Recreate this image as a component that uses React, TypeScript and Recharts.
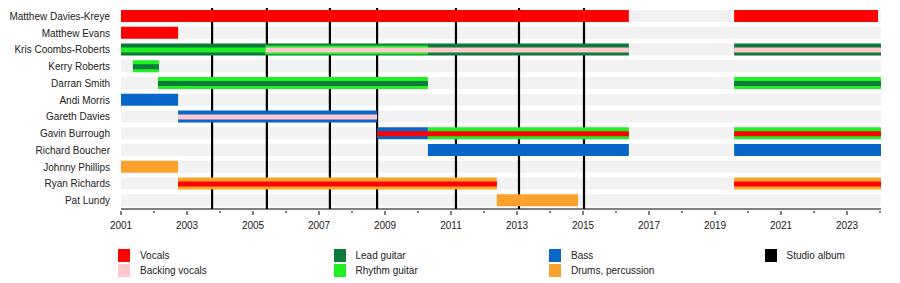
import React from "react"
import { BarChart, Bar, XAxis, YAxis, Cell, ReferenceLine } from "recharts"

// ─── Data ──────────────────────────────────────────────

const members = [
  "Matthew Davies-Kreye",
  "Matthew Evans",
  "Kris Coombs-Roberts",
  "Kerry Roberts",
  "Darran Smith",
  "Andi Morris",
  "Gareth Davies",
  "Gavin Burrough",
  "Richard Boucher",
  "Johnny Phillips",
  "Ryan Richards",
  "Pat Lundy",
]

const roleColors: Record<string, string> = {
  Vocals: "#ff0000",
  "Backing vocals": "#ffc9ce",
  "Lead guitar": "#0b7a3c",
  "Rhythm guitar": "#1ff01f",
  Bass: "#0866c8",
  "Drums, percussion": "#fba22c",
  "Studio album": "#000000",
}

// legend order, column by column
const legendRoles = [
  "Vocals",
  "Backing vocals",
  "Lead guitar",
  "Rhythm guitar",
  "Bass",
  "Drums, percussion",
  "Studio album",
]

// member, from, to, roles from the outside of the bar inwards
const stints: [string, number, number, ...string[]][] = [
  ["Matthew Davies-Kreye", 2001, 2016.39, "Vocals"],
  ["Matthew Davies-Kreye", 2019.58, 2023.94, "Vocals"],
  ["Matthew Evans", 2001, 2002.73, "Vocals"],
  ["Kris Coombs-Roberts", 2001, 2005.38, "Lead guitar", "Rhythm guitar"],
  ["Kris Coombs-Roberts", 2005.38, 2010.3, "Lead guitar", "Rhythm guitar", "Backing vocals"],
  ["Kris Coombs-Roberts", 2010.3, 2016.39, "Lead guitar", "Backing vocals"],
  ["Kris Coombs-Roberts", 2019.58, 2024.03, "Lead guitar", "Backing vocals"],
  ["Kerry Roberts", 2001.36, 2002.15, "Rhythm guitar", "Lead guitar"],
  ["Darran Smith", 2002.12, 2010.3, "Rhythm guitar", "Lead guitar"],
  ["Darran Smith", 2019.58, 2024.03, "Rhythm guitar", "Lead guitar"],
  ["Andi Morris", 2001, 2002.73, "Bass"],
  ["Gareth Davies", 2002.73, 2008.76, "Bass", "Backing vocals"],
  ["Gavin Burrough", 2008.76, 2010.3, "Bass", "Vocals"],
  ["Gavin Burrough", 2010.3, 2016.39, "Rhythm guitar", "Vocals"],
  ["Gavin Burrough", 2019.58, 2024.03, "Rhythm guitar", "Vocals"],
  ["Richard Boucher", 2010.3, 2016.39, "Bass"],
  ["Richard Boucher", 2019.58, 2024.03, "Bass"],
  ["Johnny Phillips", 2001, 2002.73, "Drums, percussion"],
  ["Ryan Richards", 2002.73, 2012.39, "Drums, percussion", "Vocals"],
  ["Ryan Richards", 2019.58, 2024.03, "Drums, percussion", "Vocals"],
  ["Pat Lundy", 2012.39, 2014.85, "Drums, percussion"],
]

const albums = [2003.76, 2005.42, 2007.33, 2008.76, 2011.15, 2013.06, 2015.03]

const yearTicks = [
  2001, 2002, 2003, 2004, 2005, 2006, 2007, 2008, 2009, 2010, 2011, 2012,
  2013, 2014, 2015, 2016, 2017, 2018, 2019, 2020, 2021, 2022, 2023, 2024,
]

const timelineStart = 2001
const timelineEnd = 2024.03

// ─── Helpers ──────────────────────────────────────────

const FONT = "'Liberation Sans', Arial, sans-serif"
const rows = members.map((name) => ({ name }))
const layerSizes = [12, 9, 5]
const chartMargin = { top: 8, right: 19, left: 0, bottom: 0 }

const stintsOf = (name: string) => stints.filter((s) => s[0] === name)
const maxSlots = Math.max(...members.map((m) => stintsOf(m).length))

// which role sits on a layer: 1 role -> outer, 2 -> outer+inner, 3 -> all
function roleAt(stint: [string, number, number, ...string[]], layer: number) {
  const roles = stint.slice(3) as string[]
  if (roles.length === 1) return layer === 0 ? roles[0] : undefined
  if (roles.length === 2) return layer === 0 ? roles[0] : layer === 2 ? roles[1] : undefined
  return roles[layer]
}

function YearTick({ x, y, payload }: any) {
  const year = payload.value as number
  const labelled = (year - 2001) % 2 === 0 && year < 2024
  return (
    <g>
      <line x1={x} x2={x} y1={y} y2={y + (labelled ? 4 : 2)} stroke="#000" />
      {labelled && (
        <text x={x} y={y + 18} textAnchor="middle" fontSize={10} fill="#222" fontFamily={FONT}>
          {year}
        </text>
      )}
    </g>
  )
}

function NameTick({ x, y, payload }: any) {
  return (
    <text x={x} y={y} dy={3.5} textAnchor="end" fontSize={10} fill="#222" fontFamily={FONT}>
      {payload.value}
    </text>
  )
}

export default function App() {
  const tracks: { id: string; slot: number; layer: number }[] = []
  for (let layer = 0; layer < 3; layer++)
    for (let slot = 0; slot < maxSlots; slot++)
      tracks.push({ id: `t${slot}-${layer}`, slot, layer })

  return (
    <div style={{ position: "absolute", left: 0, top: 0, width: 900, height: 283, background: "#fff" }}>
      {/* ── Back layer: axes, grey rows, album lines ── */}
      <div style={{ position: "absolute", left: 0, top: 0 }}>
        <BarChart width={900} height={240} data={rows} layout="vertical" margin={chartMargin}>
          <XAxis
            type="number"
            domain={[timelineStart, timelineEnd]}
            ticks={yearTicks}
            interval={0}
            height={31}
            tickSize={0}
            tickLine={false}
            axisLine={{ stroke: "#000" }}
            tick={<YearTick />}
            allowDataOverflow
          />
          <YAxis
            type="category"
            dataKey="name"
            width={121}
            axisLine={false}
            tickLine={false}
            tickSize={0}
            tickMargin={11}
            interval={0}
            tick={<NameTick />}
          />
          <Bar
            dataKey={() => [timelineStart, timelineEnd]}
            fill="#f2f2f2"
            barSize={12}
            isAnimationActive={false}
          />
          {albums.map((a) => (
            <ReferenceLine key={a} x={a} stroke="#000" strokeWidth={2.2} />
          ))}
        </BarChart>
      </div>

      {/* ── Front layer: member bars ── */}
      <div style={{ position: "absolute", left: 0, top: 0 }}>
        <BarChart width={900} height={240} data={rows} layout="vertical" margin={chartMargin}>
          <XAxis
            type="number"
            domain={[timelineStart, timelineEnd]}
            height={31}
            tick={false}
            tickLine={false}
            axisLine={false}
            allowDataOverflow
          />
          {tracks.map((t) => (
            <YAxis
              key={t.id}
              yAxisId={t.id}
              type="category"
              dataKey="name"
              width={t.id === "t0-0" ? 121 : 0}
              tick={false}
              tickLine={false}
              axisLine={false}
            />
          ))}
          {tracks.map((t) => (
            <Bar
              key={t.id}
              yAxisId={t.id}
              barSize={layerSizes[t.layer]}
              isAnimationActive={false}
              dataKey={(row: { name: string }) => {
                const s = stintsOf(row.name)[t.slot]
                if (!s || !roleAt(s, t.layer)) return null
                return [s[1], s[2]]
              }}
            >
              {rows.map((row) => {
                const s = stintsOf(row.name)[t.slot]
                const role = s ? roleAt(s, t.layer) : undefined
                return <Cell key={row.name} fill={role ? roleColors[role] : "none"} />
              })}
            </Bar>
          ))}
        </BarChart>
      </div>

      {legendRoles.map((role, i) => {
        const col = Math.floor(i / 2)
        const row = i % 2
        return (
          <div
            key={role}
            style={{
              position: "absolute",
              left: 118 + col * 215.5,
              top: 249 + row * 15,
              display: "flex",
              alignItems: "center",
              fontFamily: FONT,
              fontSize: 10,
              color: "#222",
              whiteSpace: "nowrap",
            }}
          >
            <span style={{ width: 12, height: 13, background: roleColors[role], display: "inline-block" }} />
            <span style={{ marginLeft: 10 }}>{role}</span>
          </div>
        )
      })}
    </div>
  )
}
